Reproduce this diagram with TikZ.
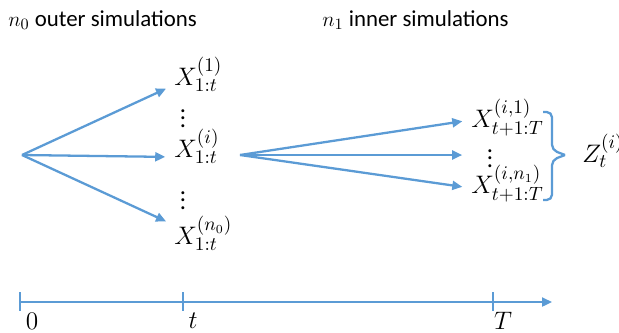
\documentclass[tikz,border=0pt]{standalone}
\usepackage{fontspec}
\setmainfont{Carlito}
\usetikzlibrary{arrows.meta,positioning,calc}
\definecolor{simblue}{HTML}{5B9BD5}
\tikzset{lbl/.style={font=\fontsize{13}{15}\selectfont,inner sep=0pt},sim/.style={font=\fontsize{15}{17}\selectfont,inner sep=0pt,anchor=base west},dots/.style={font=\fontsize{14}{16}\selectfont,inner sep=0pt,anchor=base,text height=9pt},flow/.style={-{Triangle[length=2mm,width=1.8mm]},line width=1.3pt,draw=simblue,shorten >=5pt},axis/.style={line width=1.3pt,draw=simblue}}

\begin{document}
\begin{tikzpicture}[x=0.02cm,y=-0.02cm]
\useasboundingbox (0,0) rectangle (619,332);
\node[lbl,anchor=west] (outer) at (8,20) {$n_0$ outer simulations};
\node[lbl,anchor=west] (inner) at (322,20) {$n_1$ inner simulations};
\coordinate (root) at (22,155);
\node[sim] (x1) at (174,85) {$X_{1:t}^{(1)}$};
\node[dots] (d1) at (183,127) {$\vdots$};
\node[sim] (xi) at (174,157) {$X_{1:t}^{(i)}$};
\node[dots] (d2) at (183,209) {$\vdots$};
\node[sim] (xn) at (174,244) {$X_{1:t}^{(n_0)}$};
\draw[flow](root)--(x1.base west);\draw[flow](root)--(xi.base west);\draw[flow](root)--([yshift=10.8pt]xn.base west);
\coordinate (fork) at (240,155);
\node[sim] (y1) at (471,127) {$X_{t+1:T}^{(i,1)}$};
\node[dots] (d3) at (490,167) {$\vdots$};
\node[sim] (yn) at (471,193) {$X_{t+1:T}^{(i,n_1)}$};
\draw[flow](fork)--([yshift=4pt]y1.base west);\draw[flow](fork)--(y1.base west|-fork);\draw[flow](fork)--([yshift=2.8pt]yn.base west);
\draw[axis,rounded corners=3] (543,112) -| (552,150) -- (565,155);
\draw[axis,rounded corners=3] (543,200) -| (552,160) -- (565,155);
\node[sim] (z) at (582,162) {$Z_t^{(i)}$};
\coordinate (start) at (20,302);
\coordinate (end) at (552,302);
\draw[axis,-{Triangle[length=2mm,width=1.8mm]}] (start)--(end);
\foreach \p/\n/\q in {20/0/32,183/t/193,493/T/503}{
\draw[axis] (\p,292)--(\p,311);
\node[sim,anchor=center] at (\q,321) {$\n$};}
\end{tikzpicture}
\end{document}
